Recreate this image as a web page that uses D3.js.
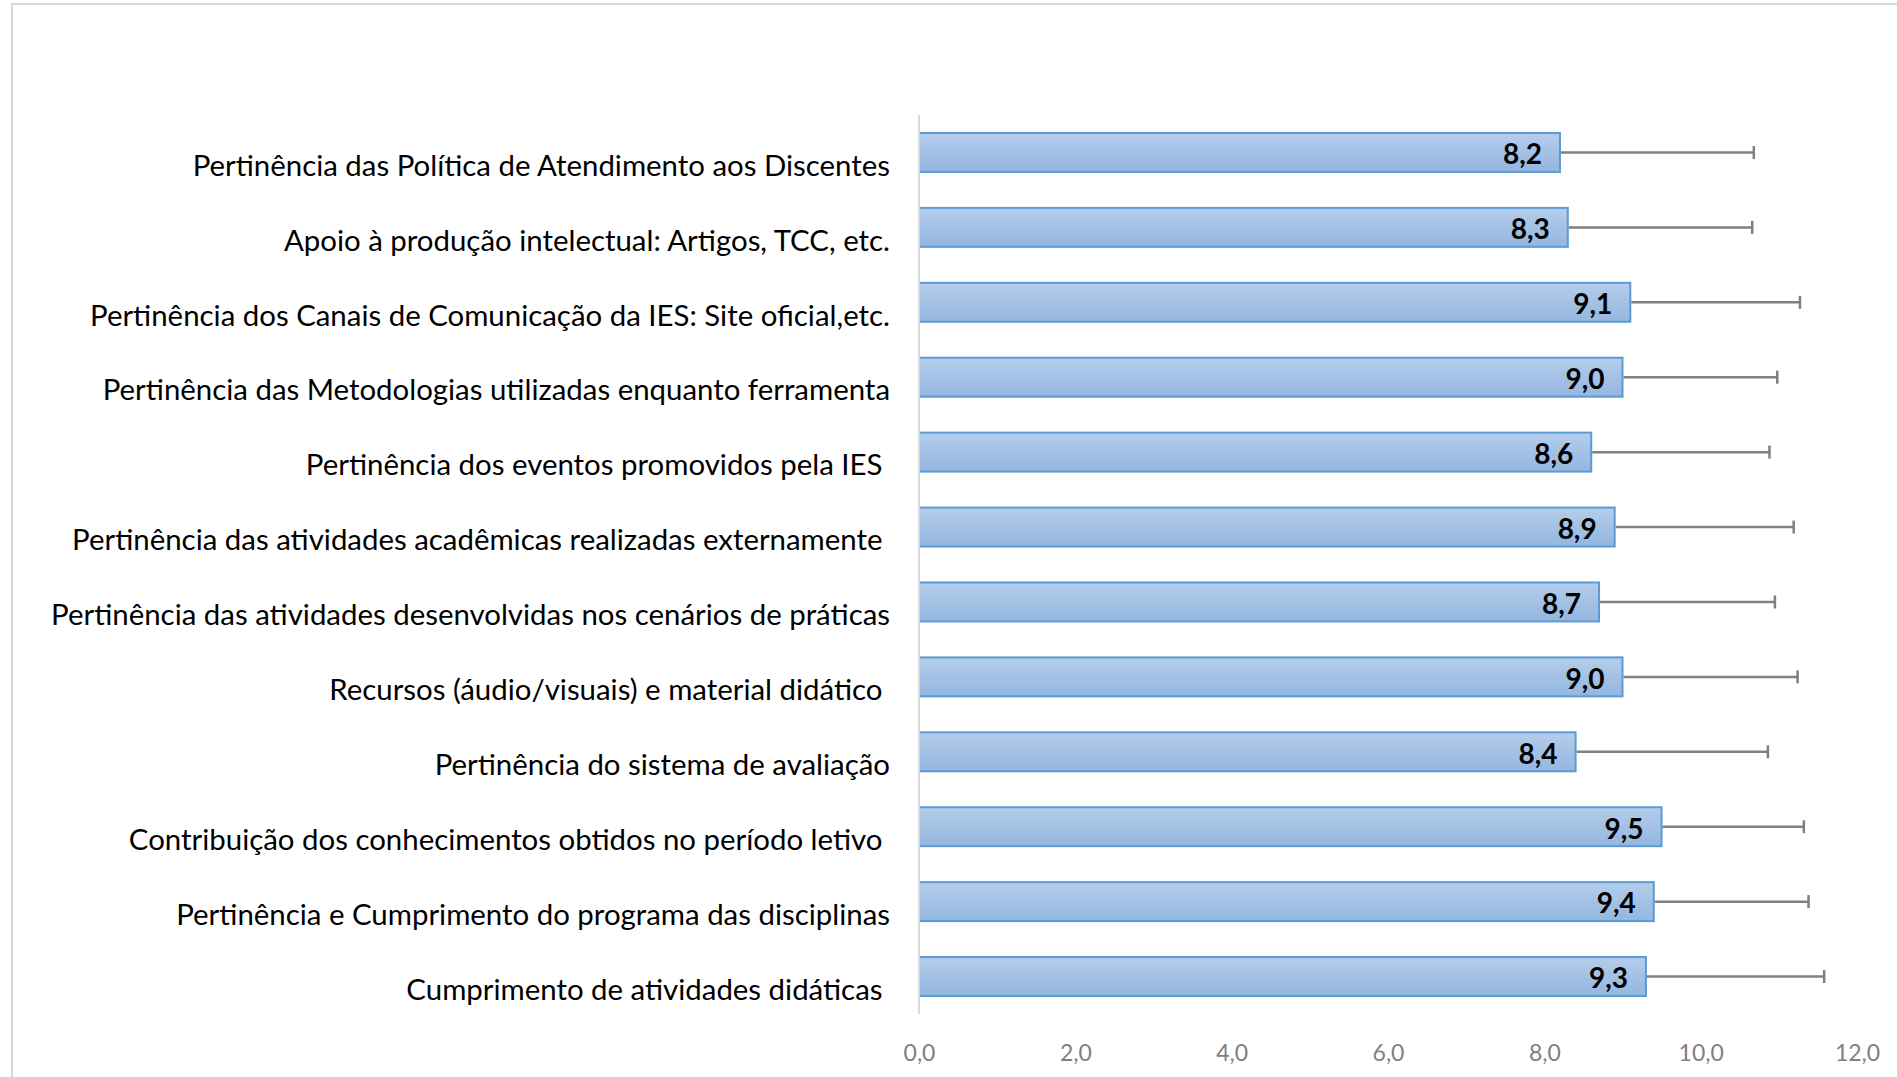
<!DOCTYPE html>
<html>
<head>
<meta charset="utf-8">
<script src="https://cdn.jsdelivr.net/npm/d3@7"></script>
<style>
  body { margin: 0; background: #fff; }
  svg text { white-space: pre; }
</style>
</head>
<body>
<svg width="1897" height="1077"></svg>
<script>
// categories, top to bottom
const categories = [
  'Pertinência das Política de Atendimento aos Discentes',
  'Apoio à produção intelectual: Artigos, TCC, etc.',
  'Pertinência dos Canais de Comunicação da IES: Site oficial,etc.',
  'Pertinência das Metodologias utilizadas enquanto ferramenta',
  'Pertinência dos eventos promovidos pela IES ',
  'Pertinência das atividades acadêmicas realizadas externamente ',
  'Pertinência das atividades desenvolvidas nos cenários de práticas',
  'Recursos (áudio/visuais) e material didático ',
  'Pertinência do sistema de avaliação',
  'Contribuição dos conhecimentos obtidos no período letivo ',
  'Pertinência e Cumprimento do programa das disciplinas',
  'Cumprimento de atividades didáticas '
];
const values = [8.2, 8.3, 9.1, 9.0, 8.6, 8.9, 8.7, 9.0, 8.4, 9.5, 9.4, 9.3];
const errors = [2.48, 2.36, 2.17, 1.98, 2.28, 2.29, 2.25, 2.24, 2.46, 1.82, 1.98, 2.28];
const xTicks = [0, 2, 4, 6, 8, 10, 12];

const data = categories.map((c, i) => ({cat: c, value: values[i], err: errors[i]}));

const svg = d3.select('svg');
const font = 'Lato, "Open Sans", sans-serif';
const fmt = v => d3.format('.1f')(v).replace('.', ',');

// outer frame
svg.append('rect')
  .attr('x', 12).attr('y', 4)
  .attr('width', 1897).attr('height', 1090)
  .attr('fill', 'none')
  .attr('stroke', '#d9d9d9')
  .attr('stroke-width', 2);

const x = d3.scaleLinear().domain([0, 12]).range([919, 1857]);
const y = d3.scaleBand().domain(categories).range([115, 1014]).paddingInner(0.48).paddingOuter(0.24);

// gradient for bars
const grad = svg.append('defs').append('linearGradient')
  .attr('id', 'barFill').attr('x1', 0).attr('x2', 0).attr('y1', 0).attr('y2', 1);
grad.append('stop').attr('offset', '0%').attr('stop-color', '#b5cdea');
grad.append('stop').attr('offset', '100%').attr('stop-color', '#93b6e0');

// bars
svg.append('g')
  .selectAll('rect')
  .data(data).enter()
  .append('rect')
  .attr('x', x(0))
  .attr('y', d => y(d.cat))
  .attr('width', d => x(d.value) - x(0))
  .attr('height', y.bandwidth())
  .attr('fill', 'url(#barFill)')
  .attr('stroke', '#5b9bd5')
  .attr('stroke-width', 2);

// error bars
const eb = svg.append('g').attr('stroke', '#808080').attr('stroke-width', 2.5);
eb.selectAll('line.err')
  .data(data).enter()
  .append('line')
  .attr('class', 'err')
  .attr('x1', d => x(d.value) + 1)
  .attr('x2', d => x(d.value + d.err))
  .attr('y1', d => y(d.cat) + y.bandwidth() / 2)
  .attr('y2', d => y(d.cat) + y.bandwidth() / 2);
eb.selectAll('line.cap')
  .data(data).enter()
  .append('line')
  .attr('class', 'cap')
  .attr('x1', d => x(d.value + d.err))
  .attr('x2', d => x(d.value + d.err))
  .attr('y1', d => y(d.cat) + y.bandwidth() / 2 - 6.5)
  .attr('y2', d => y(d.cat) + y.bandwidth() / 2 + 6.5);

// value labels
svg.append('g')
  .selectAll('text')
  .data(data).enter()
  .append('text')
  .attr('x', d => x(d.value) - 18)
  .attr('y', d => y(d.cat) + y.bandwidth() / 2 + 2)
  .attr('dy', '0.35em')
  .attr('text-anchor', 'end')
  .attr('font-family', font)
  .attr('font-weight', 'bold')
  .attr('font-size', 28)
  .attr('fill', '#000')
  .text(d => fmt(d.value));

// category labels
svg.append('g')
  .selectAll('text')
  .data(data).enter()
  .append('text')
  .attr('x', 890)
  .attr('y', d => y(d.cat) + y.bandwidth() / 2 + 13)
  .attr('dy', '0.35em')
  .attr('text-anchor', 'end')
  .attr('font-family', font)
  .attr('font-size', 29.4)
  .attr('fill', '#000')
  .text(d => d.cat);

// vertical axis line
svg.append('line')
  .attr('x1', x(0)).attr('x2', x(0))
  .attr('y1', 115).attr('y2', 1014)
  .attr('stroke', '#d9d9d9').attr('stroke-width', 2);

// x axis labels
const xAxis = svg.append('g')
  .attr('transform', 'translate(0,1042)')
  .call(d3.axisBottom(x).tickValues(xTicks).tickSize(0).tickFormat(fmt));
xAxis.select('.domain').remove();
xAxis.selectAll('text')
  .attr('font-family', font)
  .attr('font-size', 23)
  .attr('fill', '#7f7f7f');
</script>
</body>
</html>
